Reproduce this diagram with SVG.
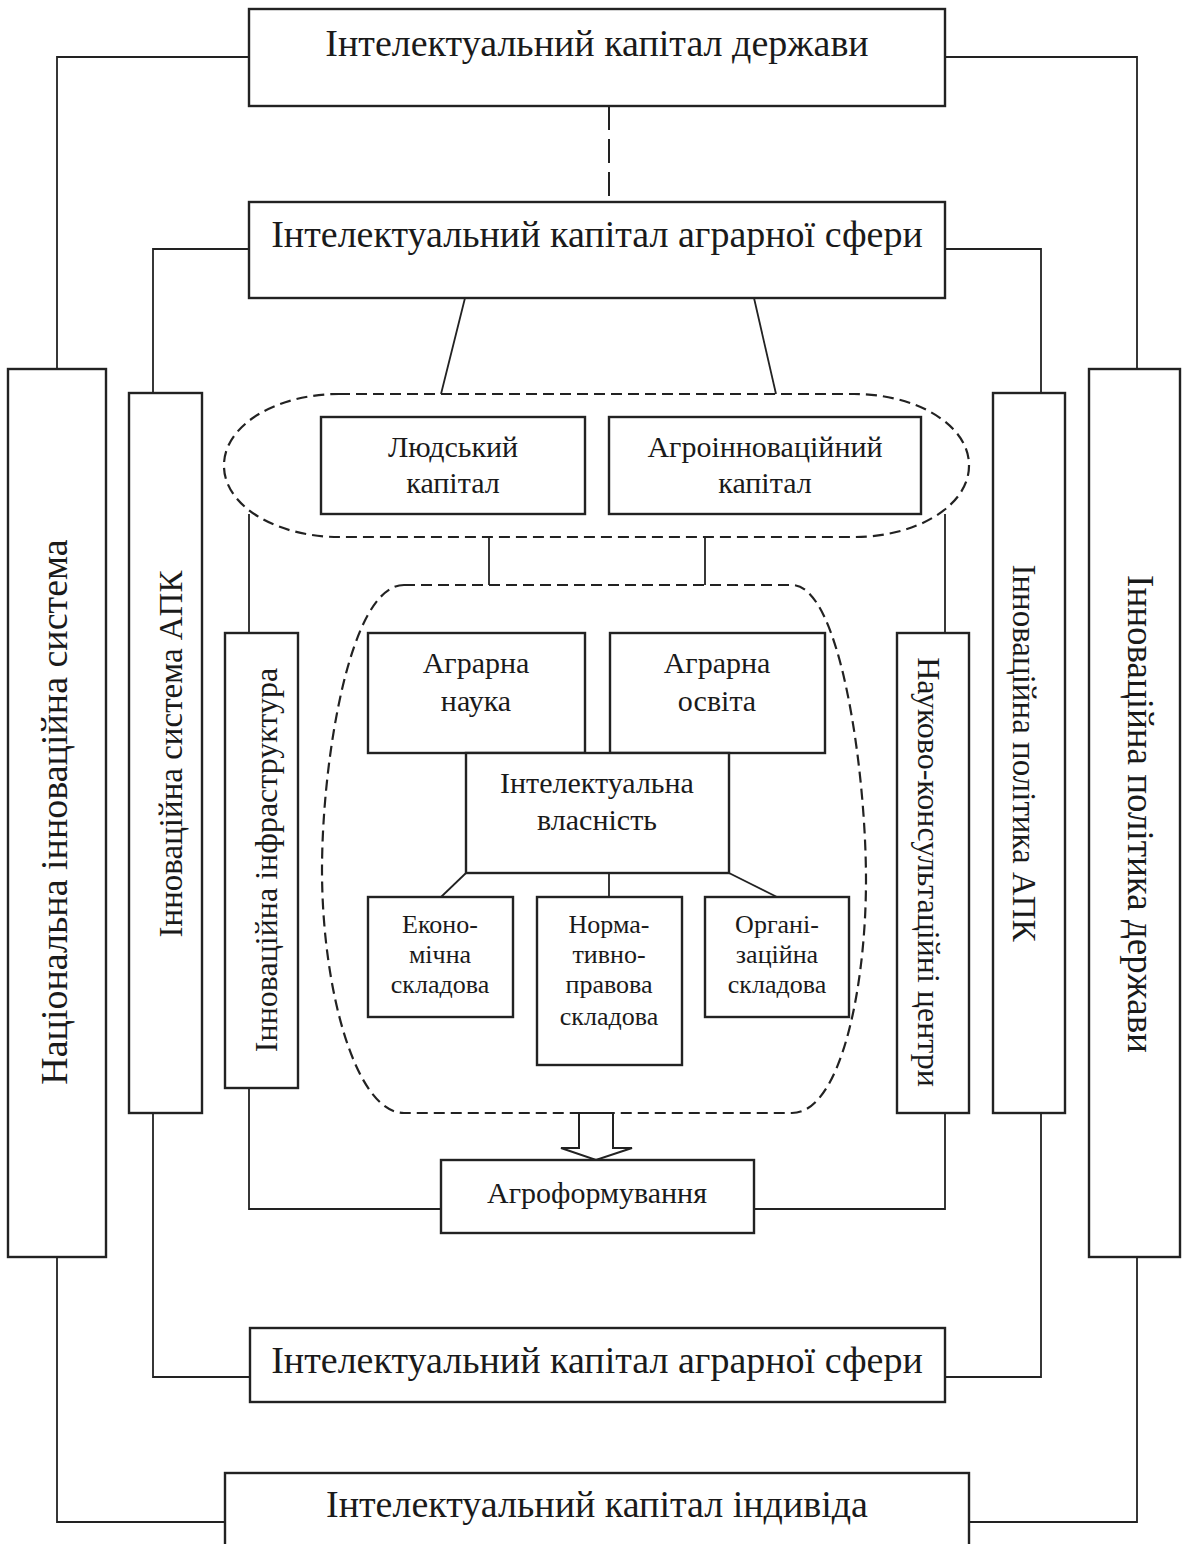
<svg xmlns="http://www.w3.org/2000/svg" width="1186" height="1544" viewBox="0 0 1186 1544">
<style>
.box{fill:#fff;stroke:#222;stroke-width:2.4}
.ln{fill:none;stroke:#222;stroke-width:1.8}
.dash{fill:none;stroke:#222;stroke-width:2.2;stroke-dasharray:11,6}
.t{font-family:"Liberation Serif","Times New Roman",serif;fill:#1a1a1a;text-anchor:middle}
.big{font-size:38px}
.mid{font-size:30px}
.sm{font-size:26px}
</style>
<rect width="1186" height="1544" fill="#fff"/>
<g id="connectors">
<polyline class="ln" points="249,57 57,57 57,369"/>
<polyline class="ln" points="945,57 1137,57 1137,369"/>
<line x1="609" y1="106" x2="609" y2="202" fill="none" stroke="#222" stroke-width="2" stroke-dasharray="24,9"/>
<polyline class="ln" points="249,249 153,249 153,393"/>
<polyline class="ln" points="945,249 1041,249 1041,393"/>
<line class="ln" x1="465" y1="298" x2="441" y2="394"/>
<line class="ln" x1="754" y1="298" x2="776" y2="394"/>
<line class="ln" x1="489" y1="537" x2="489" y2="585"/>
<line class="ln" x1="705" y1="537" x2="705" y2="585"/>
<line class="ln" x1="249" y1="514" x2="249" y2="633"/>
<line class="ln" x1="945" y1="514" x2="945" y2="633"/>
<polyline class="ln" points="249,1088 249,1209 441,1209"/>
<polyline class="ln" points="945,1113 945,1209 754,1209"/>
<polyline class="ln" points="153,1113 153,1377 250,1377"/>
<polyline class="ln" points="1041,1113 1041,1377 945,1377"/>
<polyline class="ln" points="57,1257 57,1522 225,1522"/>
<polyline class="ln" points="1137,1257 1137,1522 969,1522"/>
<line class="ln" x1="466" y1="873" x2="441" y2="897"/>
<line class="ln" x1="609" y1="873" x2="609" y2="897"/>
<line class="ln" x1="729" y1="873" x2="777" y2="897"/>
<polygon points="579,1113 613,1113 613,1148 632,1148 596,1160 561,1148 579,1148" fill="#fff" stroke="#222" stroke-width="2"/>
</g>
<g id="group-capital">
<rect class="dash" x="224" y="394" width="745" height="143" rx="115" ry="71"/>
</g>
<g id="group-intellect">
<path class="dash" d="M404,585 H792 C840,585 866,770 866,880 C866,990 840,1113 792,1113 H404 C356,1113 322,990 322,870 C322,760 350,585 404,585 Z"/>
</g>
<g id="n-state-ic">
<rect class="box" x="249" y="9" width="696" height="97"/>
<text class="t big" x="597" y="56">Інтелектуальний капітал держави</text>
</g>
<g id="n-agri-ic-top">
<rect class="box" x="249" y="202" width="696" height="96"/>
<text class="t big" x="597" y="247">Інтелектуальний капітал аграрної сфери</text>
</g>
<g id="n-human">
<rect class="box" x="321" y="417" width="264" height="97"/>
<text class="t mid" x="453" y="457">Людський</text>
<text class="t mid" x="453" y="493">капітал</text>
</g>
<g id="n-agroinnov">
<rect class="box" x="609" y="417" width="312" height="97"/>
<text class="t mid" x="765" y="457">Агроінноваційний</text>
<text class="t mid" x="765" y="493">капітал</text>
</g>
<g id="n-science">
<rect class="box" x="368" y="633" width="217" height="120"/>
<text class="t mid" x="476" y="673">Аграрна</text>
<text class="t mid" x="476" y="711">наука</text>
</g>
<g id="n-education">
<rect class="box" x="610" y="633" width="215" height="120"/>
<text class="t mid" x="717" y="673">Аграрна</text>
<text class="t mid" x="717" y="711">освіта</text>
</g>
<g id="n-ip">
<rect class="box" x="466" y="753" width="263" height="120"/>
<text class="t mid" x="597" y="793">Інтелектуальна</text>
<text class="t mid" x="597" y="830">власність</text>
</g>
<g id="n-econ">
<rect class="box" x="368" y="897" width="145" height="120"/>
<text class="t sm" x="440" y="933">Еконо-</text>
<text class="t sm" x="440" y="963">мічна</text>
<text class="t sm" x="440" y="993">складова</text>
</g>
<g id="n-norm">
<rect class="box" x="537" y="897" width="145" height="168"/>
<text class="t sm" x="609" y="933">Норма-</text>
<text class="t sm" x="609" y="963">тивно-</text>
<text class="t sm" x="609" y="993">правова</text>
<text class="t sm" x="609" y="1025">складова</text>
</g>
<g id="n-org">
<rect class="box" x="705" y="897" width="144" height="120"/>
<text class="t sm" x="777" y="933">Органі-</text>
<text class="t sm" x="777" y="963">заційна</text>
<text class="t sm" x="777" y="993">складова</text>
</g>
<g id="n-agroform">
<rect class="box" x="441" y="1160" width="313" height="73"/>
<text class="t mid" x="597" y="1203">Агроформування</text>
</g>
<g id="n-agri-ic-bottom">
<rect class="box" x="250" y="1328" width="695" height="74"/>
<text class="t big" x="597" y="1373">Інтелектуальний капітал аграрної сфери</text>
</g>
<g id="n-individual">
<rect class="box" x="225" y="1473" width="744" height="90"/>
<text class="t big" x="597" y="1517">Інтелектуальний капітал індивіда</text>
</g>
<g id="n-national">
<rect class="box" x="8" y="369" width="98" height="888"/>
<text class="t big" transform="translate(67,812) rotate(-90)">Національна інноваційна система</text>
</g>
<g id="n-apk-system">
<rect class="box" x="129" y="393" width="73" height="720"/>
<text class="t" font-size="33" transform="translate(182,754) rotate(-90)">Інноваційна система АПК</text>
</g>
<g id="n-infra">
<rect class="box" x="225" y="633" width="73" height="455"/>
<text class="t" font-size="32" transform="translate(277,860) rotate(-90)">Інноваційна інфраструктура</text>
</g>
<g id="n-consult">
<rect class="box" x="897" y="633" width="72" height="480"/>
<text class="t" font-size="32" transform="translate(918,872) rotate(90)">Науково-консультаційні центри</text>
</g>
<g id="n-apk-policy">
<rect class="box" x="993" y="393" width="72" height="720"/>
<text class="t" font-size="33" transform="translate(1013,753) rotate(90)">Інноваційна політика АПК</text>
</g>
<g id="n-state-policy">
<rect class="box" x="1089" y="369" width="91" height="888"/>
<text class="t" font-size="37" transform="translate(1128,814) rotate(90)">Інноваційна політика держави</text>
</g>
</svg>
